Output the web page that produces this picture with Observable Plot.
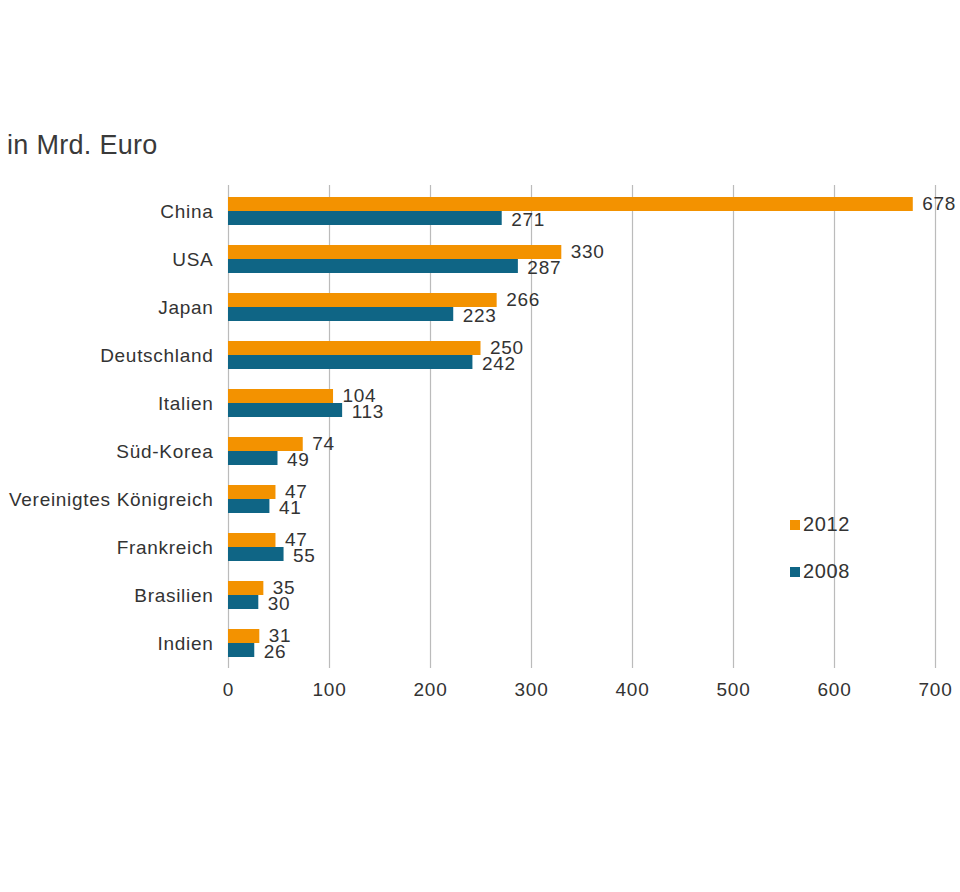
<!DOCTYPE html>
<html>
<head>
<meta charset="utf-8">
<script src="https://cdn.jsdelivr.net/npm/d3@7"></script>
<script src="https://cdn.jsdelivr.net/npm/@observablehq/plot@0.6"></script>
<style>
  html, body { margin: 0; padding: 0; background: #fff; }
  body { width: 960px; height: 892px; position: relative; overflow: hidden; font-family: "Liberation Sans", Arial, sans-serif; color: #3a3a3a; }
  #title { position: absolute; left: 7px; top: 130px; font-size: 27px; color: #3a3a3a; letter-spacing: 0.3px; }
  #chart { position: absolute; left: 0; top: 0; }
  #chart svg text { letter-spacing: 0.7px; }
  #legend { position: absolute; left: 790px; top: 501px; font-size: 20px; color: #333; letter-spacing: 0.6px; }
  .item { display: flex; align-items: center; height: 47px; }
  .sw { width: 10px; height: 10px; margin-right: 3px; }
</style>
</head>
<body>
<div id="chart"></div>
<div id="title">in Mrd. Euro</div>
<div id="legend"></div>
<script>
const countries = ["China", "USA", "Japan", "Deutschland", "Italien", "Süd-Korea", "Vereinigtes Königreich", "Frankreich", "Brasilien", "Indien"];
const values2012 = [678, 330, 266, 250, 104, 74, 47, 47, 35, 31];
const values2008 = [271, 287, 223, 242, 113, 49, 41, 55, 30, 26];
const seriesNames = ["2012", "2008"];
const seriesColors = ["#f39200", "#0f6585"];
const xTicks = [0, 100, 200, 300, 400, 500, 600, 700];

const d2012 = countries.map((c, i) => ({country: c, value: values2012[i]}));
const d2008 = countries.map((c, i) => ({country: c, value: values2008[i]}));

const chart = Plot.plot({
  width: 960,
  height: 892,
  marginLeft: 228,
  marginRight: 25,
  marginTop: 185,
  marginBottom: 224,
  style: {fontFamily: "Liberation Sans, Arial, sans-serif", fontSize: "19px", color: "#333", background: "transparent"},
  x: {domain: [0, 700], ticks: xTicks, label: null},
  y: {domain: countries, padding: 0, label: null},
  marks: [
    Plot.ruleX(xTicks, {stroke: "#bbb", strokeWidth: 1.2}),
    Plot.barX(d2012, {y: "country", x: "value", fill: seriesColors[0], insetTop: 10, insetBottom: 24}),
    Plot.barX(d2008, {y: "country", x: "value", fill: seriesColors[1], insetTop: 24, insetBottom: 10}),
    Plot.text(d2012, {y: "country", x: "value", text: d => String(d.value), textAnchor: "start", dx: 9, dy: -8, fill: "#333", fontSize: 19}),
    Plot.text(d2008, {y: "country", x: "value", text: d => String(d.value), textAnchor: "start", dx: 9, dy: 8, fill: "#333", fontSize: 19}),
    Plot.axisX({ticks: xTicks, tickSize: 0, tickPadding: 14, fontSize: 19, label: null}),
    Plot.axisY({tickSize: 0, tickPadding: 15, fontSize: 19, label: null})
  ]
});
document.getElementById("chart").appendChild(chart);

const legend = document.getElementById("legend");
seriesNames.forEach((s, i) => {
  const item = document.createElement("div");
  item.className = "item";
  const sw = document.createElement("span");
  sw.className = "sw";
  sw.style.background = seriesColors[i];
  item.appendChild(sw);
  item.appendChild(document.createTextNode(s));
  legend.appendChild(item);
});
</script>
</body>
</html>
